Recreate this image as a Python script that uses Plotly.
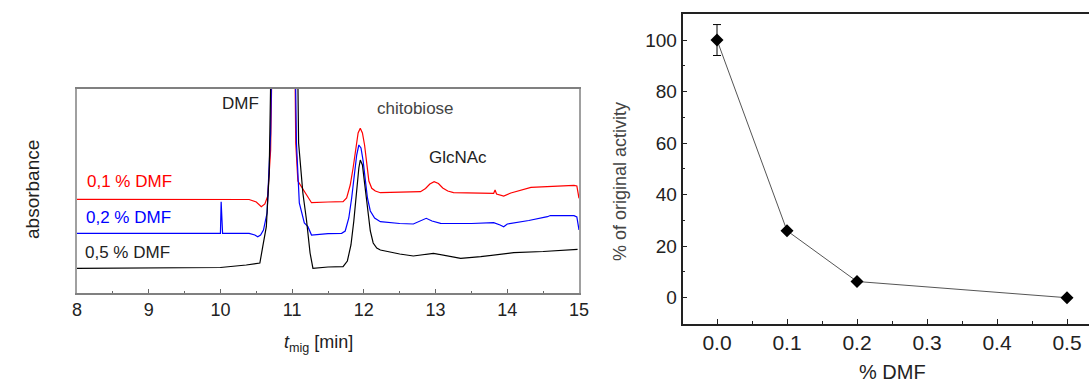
import plotly.graph_objects as go

# ---------------- Left chart: electropherograms ----------------
t_red = [8.0, 9.0, 10.0, 10.4, 10.5, 10.57, 10.62, 10.66, 10.7, 10.73, 10.88, 11.03, 11.05, 11.08,
         11.13, 11.2, 11.27, 11.5, 11.71, 11.76, 11.81, 11.85, 11.89, 11.92, 11.95, 11.98, 12.01,
         12.04, 12.07, 12.11, 12.16, 12.23, 12.5, 12.79, 12.86, 12.92, 12.98, 13.04, 13.1, 13.17,
         13.25, 13.5, 13.81, 13.83, 13.85, 13.95, 14.05, 14.33, 14.6, 14.93, 14.97, 15.0]
a_red = [93.7, 93.5, 93.5, 93.5, 91.0, 86.3, 89.0, 97.0, 143.0, 213.0, 1000.0, 300.0, 150.0, 112.0,
         106.3, 98.0, 90.3, 91.0, 91.3, 95.0, 108.0, 125.0, 148.0, 160.0, 164.7, 160.0, 148.0,
         128.0, 112.0, 104.7, 102.0, 100.3, 101.0, 101.3, 104.5, 109.0, 111.3, 109.5, 105.0, 102.0,
         100.3, 100.0, 99.7, 103.0, 99.0, 97.0, 100.0, 105.7, 106.5, 107.7, 107.0, 94.7]

t_blue = [8.0, 9.0, 9.5, 10.0, 10.01, 10.03, 10.4, 10.48, 10.52, 10.56, 10.6, 10.65, 10.7, 10.72,
          10.88, 11.03, 11.06, 11.1, 11.17, 11.22, 11.27, 11.5, 11.69, 11.74, 11.79, 11.83, 11.87,
          11.9, 11.93, 11.96, 11.99, 12.02, 12.05, 12.09, 12.15, 12.23, 12.5, 12.69, 12.78, 12.87,
          12.95, 13.07, 13.5, 13.81, 13.9, 13.95, 14.0, 14.3, 14.56, 14.6, 14.93, 14.97, 15.0]
a_blue = [59.7, 59.7, 59.5, 59.7, 91.3, 59.7, 59.7, 58.0, 56.3, 58.0, 63.0, 80.0, 160.0, 300.0,
          1000.0, 300.0, 150.0, 90.0, 70.0, 66.3, 58.0, 59.3, 59.7, 62.0, 75.0, 95.0, 120.0,
          138.0, 148.0, 145.0, 132.0, 112.0, 95.0, 82.0, 75.0, 71.3, 69.5, 69.0, 71.5, 74.7,
          72.0, 69.7, 69.5, 70.3, 68.0, 66.3, 69.0, 72.5, 76.3, 77.5, 77.3, 76.0, 63.0]

t_black = [8.0, 9.0, 10.0, 10.36, 10.52, 10.55, 10.59, 10.64, 10.68, 10.7, 10.88, 11.05, 11.09,
           11.15, 11.2, 11.25, 11.29, 11.5, 11.71, 11.77, 11.82, 11.86, 11.9, 11.93, 11.95, 11.98,
           12.01, 12.05, 12.09, 12.13, 12.18, 12.23, 12.5, 12.69, 12.97, 13.35, 13.63, 14.09, 14.5,
           14.98]
a_black = [24.7, 25.0, 25.5, 28.0, 29.7, 30.0, 46.3, 66.3, 120.0, 250.0, 1000.0, 400.0, 150.0,
           99.7, 73.0, 40.0, 24.7, 26.0, 26.3, 32.0, 48.0, 72.0, 105.0, 125.0, 133.0, 128.0,
           110.0, 86.3, 62.0, 50.0, 45.0, 43.0, 39.0, 37.0, 39.7, 34.7, 36.3, 40.3, 41.5,
           43.7]

left_x_ticks = [8, 9, 10, 11, 12, 13, 14, 15]

# ---------------- Right chart: activity vs DMF ----------------
dmf_pct = [0.0, 0.1, 0.2, 0.5]
activity = [100.0, 26.0, 6.3, 0.0]
activity_err = [6.0, 0.0, 0.0, 0.0]
right_x_ticks = [0.0, 0.1, 0.2, 0.3, 0.4, 0.5]
right_x_labels = ["0.0", "0.1", "0.2", "0.3", "0.4", "0.5"]
right_y_ticks = [0, 20, 40, 60, 80, 100]

W, H = 1089, 384
FONT = "Liberation Sans, Arial, sans-serif"

def px_x(p):
    return p / W

def px_y(p):
    return 1 - p / H

fig = go.Figure()

for t, a, c in [(t_red, a_red, "#ff0000"), (t_blue, a_blue, "#0000ff"), (t_black, a_black, "#000000")]:
    fig.add_trace(go.Scatter(x=t, y=a, mode="lines", line=dict(color=c, width=1.2),
                             xaxis="x", yaxis="y", showlegend=False, hoverinfo="skip"))

fig.add_trace(go.Scatter(
    x=dmf_pct, y=activity, mode="lines+markers",
    line=dict(color="#555555", width=1),
    marker=dict(symbol="diamond", size=10, color="black"),
    error_y=dict(type="data", array=activity_err, visible=True, color="black", thickness=1, width=4),
    xaxis="x2", yaxis="y2", showlegend=False))

fig.update_layout(
    width=W, height=H,
    margin=dict(l=0, r=0, t=0, b=0, autoexpand=False),
    paper_bgcolor="white", plot_bgcolor="white",
    font=dict(family=FONT, color="#222222", size=17),
    xaxis=dict(domain=[px_x(77), px_x(579)], range=[8, 15], tickvals=left_x_ticks,
               ticks="inside", ticklen=4, tickcolor="#666666",
               minor=dict(ticks="inside", ticklen=2, dtick=0.5, tickcolor="#666666"),
               showline=True, linecolor="#808080", linewidth=1.5, mirror=True,
               showgrid=False, zeroline=False, tickfont=dict(size=18, color="#222222"),
               anchor="y"),
    yaxis=dict(domain=[px_y(293), px_y(89)], range=[0, 204], showticklabels=False,
               ticks="", showline=True, linecolor="#a0a0a0", linewidth=2, mirror=True,
               showgrid=False, zeroline=False, anchor="x"),
    xaxis2=dict(domain=[px_x(682.5), 1.0], range=[-0.0493, 0.5314], tickvals=right_x_ticks,
                ticktext=right_x_labels, ticks="inside", ticklen=5, tickcolor="#222222",
                minor=dict(ticks="inside", ticklen=3, dtick=0.05, tickcolor="#222222"),
                showline=True, linecolor="#222222", linewidth=1.5, mirror=True,
                showgrid=False, zeroline=False, tickfont=dict(size=21, color="#222222"),
                anchor="y2"),
    yaxis2=dict(domain=[px_y(323.5), px_y(14)], range=[-10, 110.1], tickvals=right_y_ticks,
                ticks="inside", ticklen=5, tickcolor="#222222",
                minor=dict(ticks="inside", ticklen=3, dtick=10, tickcolor="#222222"),
                showline=True, linecolor="#222222", linewidth=1.5, mirror=False,
                showgrid=False, zeroline=False, tickfont=dict(size=19, color="#222222"),
                anchor="x2"),
)

annotations = [
    dict(text="absorbance", x=px_x(32), y=px_y(190), textangle=-90, font=dict(size=19, color="#222222")),
    dict(text="<i>t</i><sub>mig</sub> [min]", x=px_x(318), y=px_y(343), font=dict(size=18, color="#222222")),
    dict(text="DMF", x=px_x(240), y=px_y(104), font=dict(size=17, color="#222222")),
    dict(text="chitobiose", x=px_x(415), y=px_y(108), font=dict(size=17, color="#444444")),
    dict(text="GlcNAc", x=px_x(458), y=px_y(158), font=dict(size=17, color="#222222")),
    dict(text="0,1 % DMF", x=px_x(85), y=px_y(181), xanchor="left", font=dict(size=17, color="#ff0000")),
    dict(text="0,2 % DMF", x=px_x(84), y=px_y(217), xanchor="left", font=dict(size=17, color="#0000ff")),
    dict(text="0,5 % DMF", x=px_x(83), y=px_y(252), xanchor="left", font=dict(size=17, color="#222222")),
    dict(text="% of original activity", x=px_x(620), y=px_y(182), textangle=-90, font=dict(size=18, color="#444444")),
    dict(text="% DMF", x=px_x(892), y=px_y(372), font=dict(size=20, color="#222222")),
]
for a in annotations:
    a.setdefault("xanchor", "center")
    a.update(xref="paper", yref="paper", yanchor="middle", showarrow=False)
fig.update_layout(annotations=annotations)

# remove the browser's default 8px body margin so the figure fills the 1089x384 window exactly
fig.write_html("out.html",
               config={"displayModeBar": False},
               post_script="document.body.style.margin='0px';document.body.style.overflow='hidden';")
